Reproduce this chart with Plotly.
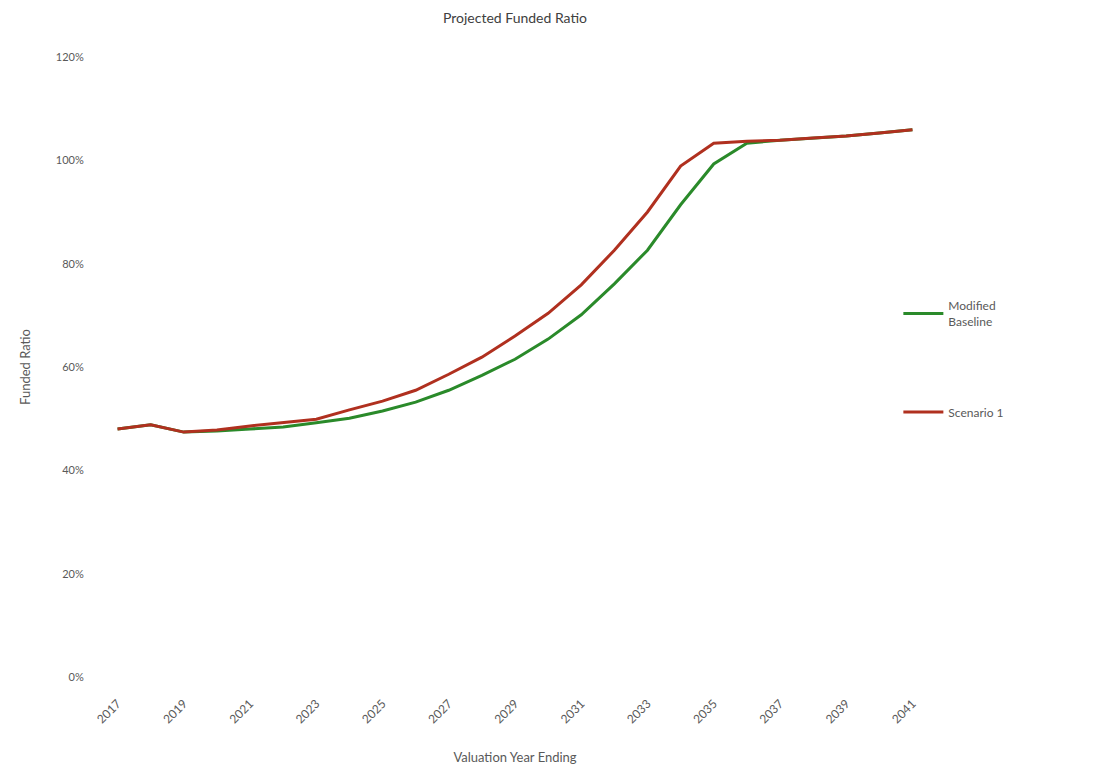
import plotly.graph_objects as go

years = list(range(2017, 2042))
baseline = [48.0, 48.8, 47.4, 47.6, 48.0, 48.4, 49.2, 50.1, 51.5, 53.2, 55.5, 58.4, 61.5,
            65.4, 70.1, 76.1, 82.6, 91.4, 99.3, 103.3, 103.9, 104.3, 104.7, 105.3, 105.9]
scenario1 = [48.0, 48.8, 47.4, 47.8, 48.6, 49.2, 49.9, 51.7, 53.4, 55.5, 58.6, 61.9, 66.0,
             70.4, 75.9, 82.6, 90.0, 98.9, 103.3, 103.7, 103.9, 104.3, 104.7, 105.3, 105.9]
tick_years = list(range(2017, 2042, 2))
y_ticks = [0, 20, 40, 60, 80, 100, 120]

font_family = "Lato, 'Open Sans', sans-serif"
grey = "#595959"

fig = go.Figure()
fig.add_trace(go.Scatter(x=years, y=baseline, mode="lines", name="Modified<br>Baseline",
                         line=dict(color="#2a8a2a", width=3), legendgroup="a"))
fig.add_trace(go.Scatter(x=years, y=scenario1, mode="lines", name="Scenario 1",
                         line=dict(color="#b0301f", width=3), legendgroup="b"))

fig.update_layout(
    width=1096, height=774,
    margin=dict(l=101, r=167, t=57, b=97),
    paper_bgcolor="white", plot_bgcolor="white",
    font=dict(family=font_family, color=grey, size=11),
    title=dict(text="Projected Funded Ratio", x=0.5, xref="paper", y=0.977, yanchor="middle",
               font=dict(size=14, color="#404040", family=font_family)),
    legend=dict(x=0.963, xanchor="left", y=0.622, yanchor="top", tracegroupgap=72,
                font=dict(size=12, color=grey), bgcolor="rgba(0,0,0,0)", itemwidth=40),
    showlegend=True,
)
fig.update_xaxes(range=[2016.5, 2041.5], tickmode="array", tickvals=tick_years,
                 ticktext=[str(y) for y in tick_years], tickangle=-45,
                 showgrid=False, zeroline=False, showline=False,
                 ticks="outside", ticklen=14, tickcolor="white",
                 tickfont=dict(size=12, color=grey),
                 title=dict(text="Valuation Year Ending", font=dict(size=13, color=grey), standoff=27))
fig.update_yaxes(range=[0, 120], tickmode="array", tickvals=y_ticks,
                 ticktext=[f"{v}%" for v in y_ticks], showgrid=False, zeroline=False,
                 showline=False, tickfont=dict(size=11, color=grey),
                 ticks="outside", ticklen=14, tickcolor="white",
                 title=dict(text="Funded Ratio", font=dict(size=13, color=grey), standoff=22))

fig.write_html("out.html")
